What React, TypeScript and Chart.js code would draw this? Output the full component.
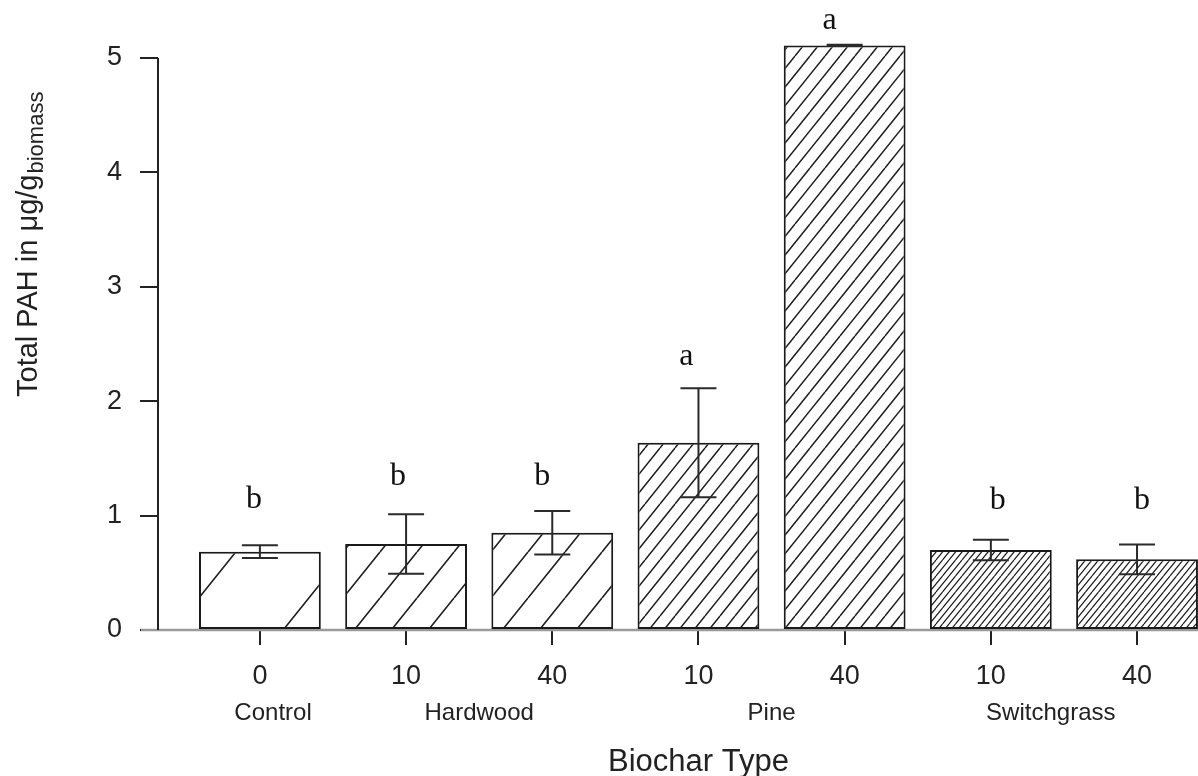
import React, { useEffect, useRef } from 'react';
import { Chart, registerables } from 'chart.js';

Chart.register(...registerables);

// ---- data ----
const categories = ['0', '10', '40', '10', '40', '10', '40'];
const groupNames = ['Control', 'Hardwood', 'Pine', 'Switchgrass'];
const barGroup = [0, 1, 1, 2, 2, 3, 3];
const meanPAH = [0.685, 0.752, 0.851, 1.637, 5.11, 0.699, 0.618];
const errPAH = [0.055, 0.26, 0.19, 0.476, 0.005, 0.09, 0.13];
const letters = ['b', 'b', 'b', 'a', 'a', 'b', 'b'];
const letterLevels = [1.07, 1.27, 1.27, 2.32, 5.25, 1.06, 1.06];
const yTicks = [0, 1, 2, 3, 4, 5];

// ---- annotation placement / styling ----
const groupLabelAt = [0.09, 1.5, 3.5, 5.41];
const letterNudgePx = [-6, -8, -10, -12, -15, 7, 5];
const hatchSpecs = [
  { W: 110, H: 137, n: 1, lw: 1.6, phase: 19 },
  { W: 37, H: 46, n: 1, lw: 1.6, phase: 10 },
  { W: 45, H: 56, n: 3, lw: 1.5, phase: 0 },
  { W: 13, H: 16, n: 2, lw: 1.2, phase: 0 },
];

const SANS = '"Liberation Sans", Arial, Helvetica, sans-serif';
const SERIF = '"Liberation Serif", "Times New Roman", serif';

function makeHatch(spec: { W: number; H: number; n: number; lw: number; phase: number }) {
  const c = document.createElement('canvas');
  c.width = spec.W;
  c.height = spec.H;
  const g = c.getContext('2d')!;
  g.fillStyle = '#ffffff';
  g.fillRect(0, 0, spec.W, spec.H);
  g.strokeStyle = '#1e1e1e';
  g.lineWidth = spec.lw;
  const s = spec.W / spec.n;
  g.beginPath();
  for (let k = -spec.n; k <= 2 * spec.n; k++) {
    g.moveTo(k * s, 0);
    g.lineTo(k * s - spec.W, spec.H);
  }
  g.stroke();
  const p = g.createPattern(c, 'repeat')!;
  try {
    p.setTransform(new DOMMatrix([1, 0, 0, 1, spec.phase, 0]));
  } catch (e) {
    /* ignore */
  }
  return p;
}

const annotPlugin = {
  id: 'annot',
  beforeDatasetsDraw(chart: any) {
    const { ctx, chartArea } = chart;
    const y = chart.scales.y;
    const y0 = y.getPixelForValue(0);
    ctx.save();
    ctx.strokeStyle = '#9a9a9a';
    ctx.lineWidth = 2.5;
    ctx.beginPath();
    ctx.moveTo(chartArea.left - 17, y0);
    ctx.lineTo(chart.width, y0);
    ctx.stroke();
    ctx.restore();
  },
  afterDatasetsDraw(chart: any) {
    const { ctx } = chart;
    const x = chart.scales.x;
    const y = chart.scales.y;
    ctx.save();
    ctx.strokeStyle = '#2a2a2a';
    ctx.lineWidth = 2;
    meanPAH.forEach((m, i) => {
      const cx = x.getPixelForValue(i);
      const top = y.getPixelForValue(m + errPAH[i]);
      const bot = y.getPixelForValue(m - errPAH[i]);
      ctx.beginPath();
      ctx.moveTo(cx, top);
      ctx.lineTo(cx, bot);
      ctx.moveTo(cx - 18, top);
      ctx.lineTo(cx + 18, top);
      ctx.moveTo(cx - 18, bot);
      ctx.lineTo(cx + 18, bot);
      ctx.stroke();
    });
    ctx.fillStyle = '#111';
    ctx.font = `32px ${SERIF}`;
    ctx.textAlign = 'center';
    ctx.textBaseline = 'alphabetic';
    letters.forEach((t, i) => {
      ctx.fillText(t, x.getPixelForValue(i) + letterNudgePx[i], y.getPixelForValue(letterLevels[i]));
    });
    ctx.restore();
  },
  afterDraw(chart: any) {
    const { ctx, chartArea } = chart;
    const x = chart.scales.x;
    const y = chart.scales.y;
    ctx.save();
    // y axis line from 0 to 5
    ctx.strokeStyle = '#222';
    ctx.lineWidth = 2;
    ctx.beginPath();
    ctx.moveTo(chartArea.left, y.getPixelForValue(0));
    ctx.lineTo(chartArea.left, y.getPixelForValue(yTicks[yTicks.length - 1]));
    ctx.stroke();

    // group labels
    ctx.fillStyle = '#222';
    ctx.font = `24px ${SANS}`;
    ctx.textAlign = 'center';
    ctx.textBaseline = 'alphabetic';
    groupNames.forEach((g, i) => {
      ctx.fillText(g, x.getPixelForValue(groupLabelAt[i]), 720);
    });

    // x title
    ctx.font = `31px ${SANS}`;
    ctx.fillText('Biochar Type', x.getPixelForValue(3), 771);

    // y title with subscript
    ctx.translate(37, 397);
    ctx.rotate(-Math.PI / 2);
    ctx.textAlign = 'left';
    ctx.font = `29px ${SANS}`;
    const main = 'Total PAH in \u03BCg/g';
    ctx.fillText(main, 0, 0);
    const w = ctx.measureText(main).width;
    ctx.font = `22px ${SANS}`;
    ctx.fillText('biomass', w + 1, 6);
    ctx.restore();
  },
};

export default function App() {
  const ref = useRef<HTMLCanvasElement>(null);
  useEffect(() => {
    document.body.style.margin = '0';
    const canvas = ref.current!;
    const patterns = meanPAH.map((_, i) => makeHatch(hatchSpecs[barGroup[i]]));
    const chart = new Chart(canvas, {
      type: 'bar',
      data: {
        datasets: [
          {
            data: meanPAH.map((v, i) => ({ x: i, y: v })),
            backgroundColor: patterns,
            borderColor: '#1a1a1a',
            borderWidth: 2,
            borderSkipped: false,
            barPercentage: 0.8333,
            categoryPercentage: 1,
          } as any,
        ],
      },
      options: {
        responsive: false,
        animation: false,
        layout: { padding: 0 },
        plugins: {
          legend: { display: false },
          tooltip: { enabled: false },
          title: { display: false },
        },
        scales: {
          x: {
            type: 'linear',
            offset: false,
            min: -0.697,
            max: 6.417,
            afterBuildTicks: (s: any) => {
              s.ticks = categories.map((_, i) => ({ value: i }));
            },
            afterFit: (s: any) => {
              s.height = 146;
              s.paddingLeft = 0;
              s.paddingRight = 0;
            },
            ticks: {
              autoSkip: false,
              maxRotation: 0,
              callback: (v: any) => categories[Math.round(Number(v))] ?? '',
              font: { family: SANS, size: 27 },
              color: '#222',
              padding: 15,
            },
            grid: {
              display: true,
              offset: false,
              drawOnChartArea: false,
              drawTicks: true,
              tickLength: 15,
              color: '#222',
              lineWidth: 2,
            },
            border: { display: false },
          },
          y: {
            type: 'linear',
            min: 0,
            max: 5.507,
            afterBuildTicks: (s: any) => {
              s.ticks = yTicks.map((v) => ({ value: v }));
            },
            afterFit: (s: any) => {
              s.width = 158;
              s.paddingTop = 0;
              s.paddingBottom = 0;
            },
            ticks: {
              font: { family: SANS, size: 27 },
              color: '#222',
              padding: 18,
              callback: (v: any) => String(v),
            },
            grid: {
              display: true,
              drawOnChartArea: false,
              drawTicks: true,
              tickLength: 18,
              color: '#222',
              lineWidth: 2,
            },
            border: { display: false },
          },
        },
      } as any,
      plugins: [annotPlugin],
    });
    return () => chart.destroy();
  }, []);
  return (
    <div style={{ width: 1198, height: 776, background: '#fff' }}>
      <canvas ref={ref} width={1198} height={776} style={{ display: 'block' }} />
    </div>
  );
}
